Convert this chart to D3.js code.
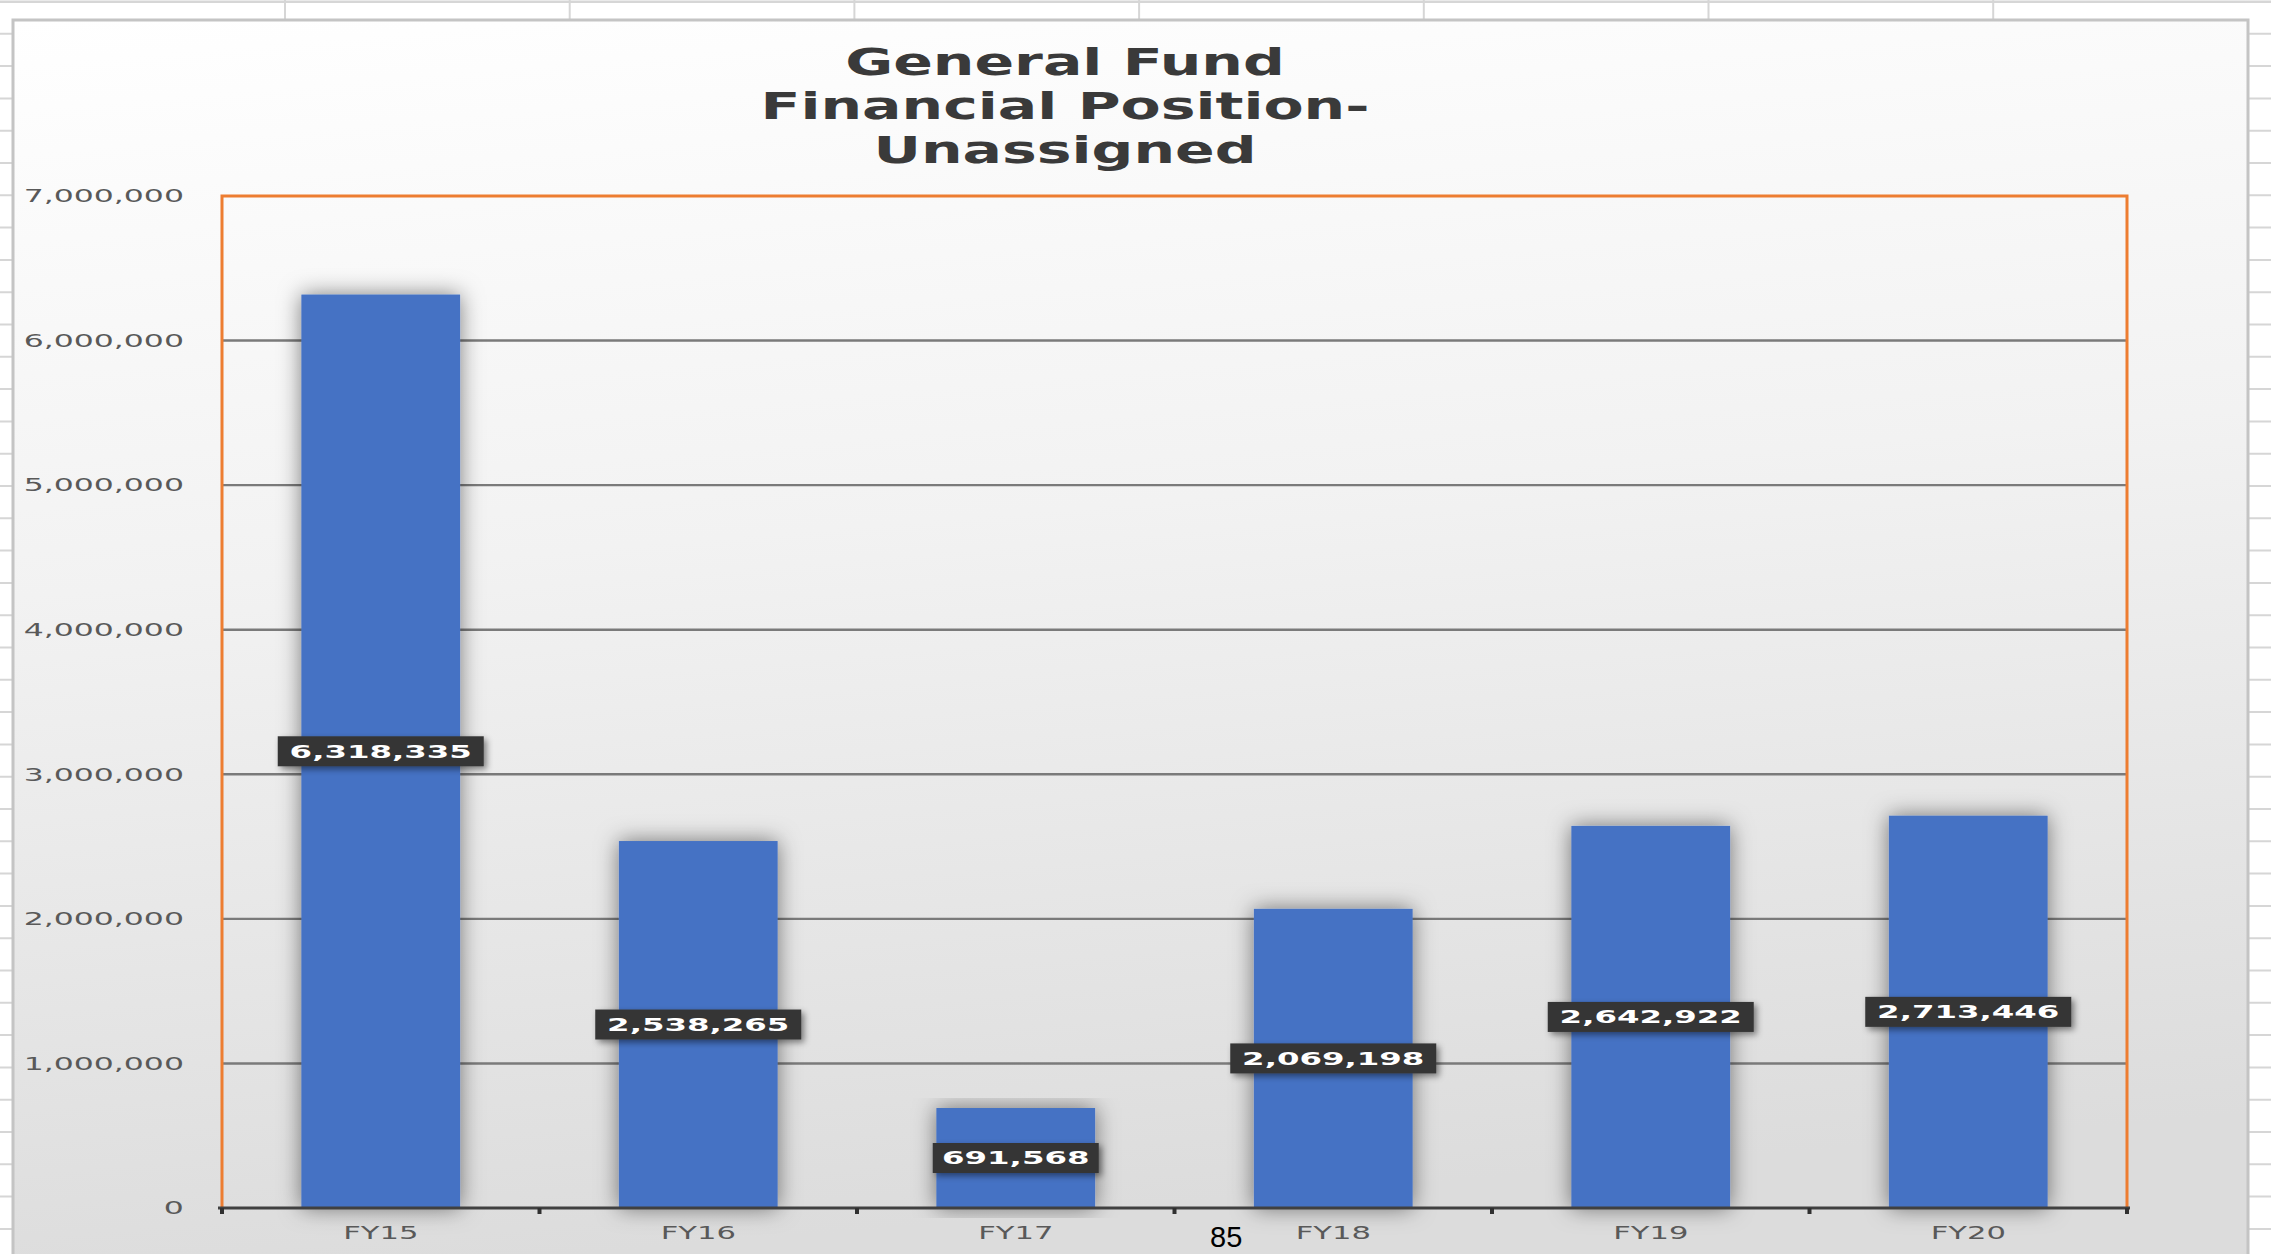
<!DOCTYPE html>
<html>
<head>
<meta charset="utf-8">
<script src="https://cdn.jsdelivr.net/npm/d3@7"></script>
<style>
  body { margin: 0; background: #fff; }
  svg { display: block; }
</style>
</head>
<body>
<svg width="2271" height="1254"></svg>
<script>
// chart data
var categories = ["FY15", "FY16", "FY17", "FY18", "FY19", "FY20"];
var unassigned = [6318335, 2538265, 691568, 2069198, 2642922, 2713446];
var yTicks = [0, 1000000, 2000000, 3000000, 4000000, 5000000, 6000000, 7000000];
var titleLines = ["General Fund", "Financial Position-", "Unassigned"];
var pageNumber = "85";

var svg = d3.select("svg"),
    width = +svg.attr("width"),
    height = +svg.attr("height");

var plot = {left: 222, right: 2127, top: 196, bottom: 1208};
var stretch = 1.7;   // the screenshot is stretched wide, text too

var defs = svg.append("defs");

var grad = defs.append("linearGradient")
    .attr("id", "panelGrad")
    .attr("x1", 0).attr("y1", 0).attr("x2", 0.15).attr("y2", 1);
grad.append("stop").attr("offset", "0%").attr("stop-color", "#ffffff");
grad.append("stop").attr("offset", "45%").attr("stop-color", "#f2f2f2");
grad.append("stop").attr("offset", "100%").attr("stop-color", "#dcdcdc");

var barShadow = defs.append("filter").attr("id", "barShadow")
    .attr("x", "-30%").attr("y", "-10%").attr("width", "160%").attr("height", "120%");
barShadow.append("feDropShadow")
    .attr("dx", 0).attr("dy", 0).attr("stdDeviation", 11)
    .attr("flood-color", "#000").attr("flood-opacity", 0.5);

var boxShadow = defs.append("filter").attr("id", "boxShadow")
    .attr("x", "-20%").attr("y", "-40%").attr("width", "140%").attr("height", "180%");
boxShadow.append("feDropShadow")
    .attr("dx", 3).attr("dy", 3).attr("stdDeviation", 3)
    .attr("flood-color", "#000").attr("flood-opacity", 0.45);

// spreadsheet cells behind the chart object
var sheet = svg.append("g").attr("stroke", "#d6d6d6").attr("stroke-width", 2);
sheet.selectAll(".col")
    .data(d3.range(285, width, 284.7))
    .enter().append("line")
    .attr("x1", function(d) { return d; }).attr("x2", function(d) { return d; })
    .attr("y1", 0).attr("y2", height);
sheet.selectAll(".row")
    .data(d3.range(163 - 32.3 * 5, height, 32.3))
    .enter().append("line")
    .attr("x1", 0).attr("x2", width)
    .attr("y1", function(d) { return d; }).attr("y2", function(d) { return d; });
sheet.append("line").attr("x1", 0).attr("x2", width).attr("y1", 2).attr("y2", 2);

// chart panel
svg.append("rect")
    .attr("x", 13).attr("y", 20)
    .attr("width", 2235).attr("height", height)
    .attr("fill", "url(#panelGrad)")
    .attr("stroke", "#c4c4c4").attr("stroke-width", 3);

// title
var title = svg.append("g")
    .attr("font-family", "DejaVu Sans, Verdana, sans-serif")
    .attr("font-weight", "bold")
    .attr("font-size", 37)
    .attr("fill", "#3a3a3a");
title.selectAll("g")
    .data(titleLines)
    .enter().append("g")
    .attr("transform", function(d, i) { return "translate(1065," + (75 + i * 44) + ") scale(1.58,1)"; })
    .append("text")
    .attr("text-anchor", "middle")
    .text(function(d) { return d; });

var xScale = d3.scaleBand()
    .domain(categories)
    .range([plot.left, plot.right])
    .paddingInner(0.5)
    .paddingOuter(0.25);

var yScale = d3.scaleLinear()
    .domain([0, 7000000])
    .range([plot.bottom, plot.top]);

var data = categories.map(function(c, i) { return {name: c, value: unassigned[i]}; });

// gridlines
svg.append("g")
    .selectAll("line")
    .data(yTicks.slice(1, -1))
    .enter().append("line")
    .attr("x1", plot.left).attr("x2", plot.right)
    .attr("y1", function(d) { return yScale(d); })
    .attr("y2", function(d) { return yScale(d); })
    .attr("stroke", "#7a7a7a").attr("stroke-width", 2.4);

// y axis labels
var yAxis = svg.append("g")
    .attr("transform", "translate(" + plot.left + ",0)")
    .call(d3.axisLeft(yScale).tickValues(yTicks).tickSize(0).tickPadding(0).tickFormat(d3.format(",")));
yAxis.select(".domain").remove();
yAxis.selectAll("text")
    .attr("x", -37 / stretch)
    .attr("transform", "scale(1.75,1)")
    .attr("font-family", "DejaVu Sans, Verdana, sans-serif")
    .attr("font-size", 18)
    .attr("fill", "#595959");

// bars
svg.append("g")
    .selectAll(".bar")
    .data(data)
    .enter().append("rect")
    .attr("class", "bar")
    .attr("x", function(d) { return xScale(d.name); })
    .attr("y", function(d) { return yScale(d.value); })
    .attr("width", xScale.bandwidth())
    .attr("height", function(d) { return plot.bottom - yScale(d.value); })
    .attr("fill", "#4472c4")
    .attr("filter", "url(#barShadow)");

// plot border, orange on three sides
svg.append("path")
    .attr("d", "M" + plot.left + "," + plot.bottom + "V" + plot.top + "H" + plot.right + "V" + plot.bottom)
    .attr("fill", "none")
    .attr("stroke", "#ed7d31")
    .attr("stroke-width", 3);

// x axis
var xAxis = svg.append("g")
    .attr("transform", "translate(0," + plot.bottom + ")")
    .call(d3.axisBottom(xScale).tickSize(0).tickPadding(18));
xAxis.select(".domain").remove();
xAxis.selectAll("text")
    .attr("transform", "scale(" + stretch + ",1)")
    .attr("font-family", "DejaVu Sans, Verdana, sans-serif")
    .attr("font-size", 18)
    .attr("fill", "#595959");

svg.append("line")
    .attr("x1", plot.left - 4).attr("x2", plot.right + 3)
    .attr("y1", plot.bottom).attr("y2", plot.bottom)
    .attr("stroke", "#404040").attr("stroke-width", 3);

var edgeOffset = xScale.step() * xScale.paddingOuter();
svg.append("g")
    .selectAll("line")
    .data(categories.concat(["end"]))
    .enter().append("line")
    .attr("x1", function(d, i) { return i < categories.length ? xScale(d) - edgeOffset : plot.right; })
    .attr("x2", function(d, i) { return i < categories.length ? xScale(d) - edgeOffset : plot.right; })
    .attr("y1", plot.bottom).attr("y2", plot.bottom + 6)
    .attr("stroke", "#303030").attr("stroke-width", 4);

// data labels in dark boxes at bar middles
var labels = svg.append("g")
    .selectAll("g")
    .data(data)
    .enter().append("g")
    .attr("transform", function(d) {
        return "translate(" + (xScale(d.name) + xScale.bandwidth() / 2) + "," + yScale(d.value / 2) + ")";
    });

labels.append("rect")
    .attr("x", function(d) { return -(d3.format(",")(d.value).length * 20 + 26) / 2; })
    .attr("y", -15)
    .attr("width", function(d) { return d3.format(",")(d.value).length * 20 + 26; })
    .attr("height", 30)
    .attr("fill", "#363636")
    .attr("filter", "url(#boxShadow)");

labels.append("text")
    .attr("transform", "scale(1.8,1)")
    .attr("text-anchor", "middle")
    .attr("dy", "0.36em")
    .attr("font-family", "DejaVu Sans, Verdana, sans-serif")
    .attr("font-weight", "bold")
    .attr("font-size", 18)
    .attr("fill", "#ffffff")
    .text(function(d) { return d3.format(",")(d.value); });

// page number from the document below the chart
svg.append("text")
    .attr("x", 1210).attr("y", 1247)
    .attr("font-family", "Liberation Sans, Arial, sans-serif")
    .attr("font-size", 29)
    .attr("fill", "#000")
    .text(pageNumber);
</script>
</body>
</html>
